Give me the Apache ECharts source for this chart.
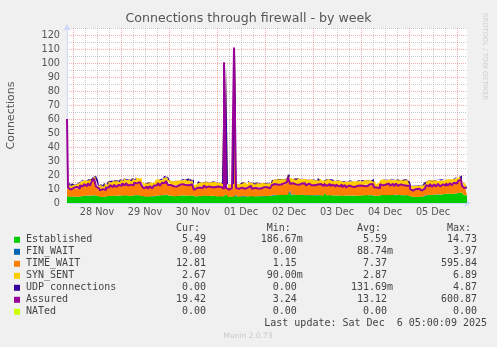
<!DOCTYPE html>
<html><head><meta charset="utf-8">
<script src="https://cdn.jsdelivr.net/npm/echarts@6/dist/echarts.min.js"></script>
<style>html,body{margin:0;padding:0;background:#f0f0f0}#c{width:497px;height:347px}</style>
</head><body><div id="c"></div><script>
// hourly samples, first = 2025-11-27 21:00, last = 2025-12-06 05:00
const dayLabels = ['28 Nov','29 Nov','30 Nov','01 Dec','02 Dec','03 Dec','04 Dec','05 Dec'];
const yTicks = [0,10,20,30,40,50,60,70,80,90,100,110,120];

const established = [
4.8,4.6,4.5,4.7,4.4,4.6,4.5,4.8,5.0,5.2,4.9,5.3,
5.1,5.5,5.8,5.2,4.6,4.4,4.3,4.6,4.8,5.0,5.3,5.1,
5.2,4.9,5.1,5.3,5.5,5.2,5.6,5.4,5.0,5.3,5.6,5.8,
5.5,5.7,4.9,4.6,4.8,4.5,4.9,4.7,5.0,5.4,5.6,5.3,
5.5,5.8,6.0,5.4,5.0,5.2,4.9,5.1,5.0,5.3,5.4,5.6,
5.2,5.5,5.3,5.4,4.5,4.7,5.0,5.2,4.9,5.3,5.1,4.9,
5.2,5.0,5.1,4.8,5.0,4.7,4.6,6.0,4.6,4.4,4.5,4.4,
6.2,4.6,4.8,4.7,5.1,4.8,4.7,4.9,5.2,4.8,4.6,4.9,
4.8,5.0,4.8,5.0,4.9,5.0,5.1,5.8,5.6,5.9,5.7,6.0,
5.8,5.7,6.1,9.3,6.2,5.8,6.0,5.7,5.9,5.8,6.1,5.9,
5.6,5.8,5.7,5.5,5.7,5.4,5.8,5.6,5.4,7.0,5.6,5.8,
5.5,5.4,5.3,5.5,5.4,5.5,5.2,5.4,5.1,5.3,5.4,5.2,
5.3,5.1,5.4,5.2,5.6,5.7,5.5,5.6,5.5,5.7,5.2,4.8,
5.0,5.7,5.8,5.6,5.7,5.9,5.6,5.8,5.5,5.9,5.7,5.6,
5.8,5.5,5.7,5.3,4.6,4.4,4.5,4.3,4.6,4.5,4.7,5.1,
5.7,5.9,6.0,5.7,6.1,5.9,6.2,6.0,6.3,6.4,6.6,6.4,
6.7,6.5,6.8,7.0,7.2,7.5,6.2,5.6,5.5];

const finWait = [
0,0,0,0,0,0,0,0,0,0,0,0, 0,0,0,0,0,0,0,0,0,0,0,0,
0,0,0,0,0,0,0,0,0,0,0,0, 0,0,0,0,0,0,0,0,0,0,0,0,
0,0,0,0,0,0,0,0,0,0,0,0, 0,0,0,0,0,0,0,0,0,0,0,0,
0,0,0,0,0,0,0,0,0,0,0,0, 0,0,0,0,0,0,0,0,0,0,0,0,
0,0,0,0,0,0,0,0,0,0,0,0, 0,0,0,0,0,0,0,0,0,0,0,0,
0,0,0,0,0,0,0,0,0,0,0,0, 0,0,0,0,0,0,0,0,0,0,0,0,
0,0,0,0,0,0,0,0,0,0,0,0, 0,0,0,0,0,0,0,0,0,0,0,0,
0,0,0,0,0,0,0,0,0,0,0,0, 0,0,0,0,0,0,0,0,0,0,0,0,
0,0,0,0,0,0,0,0,0];

const timeWait = [
5.4,6.4,5.5,6.3,5.7,6.8,6.0,7.5,7.2,8.3,7.5,8.6,
7.5,10.0,11.0,7.4,5.0,5.4,4.7,5.7,5.4,7.1,6.7,7.4,
7.0,7.5,7.0,8.0,7.6,8.4,7.8,8.0,7.1,8.4,8.0,9.0,
8.4,9.1,6.2,6.7,6.1,6.5,6.2,6.7,6.5,8.2,7.7,8.1,
8.0,9.5,9.3,8.4,6.9,7.8,6.8,7.7,7.0,7.9,7.3,8.2,
7.1,8.1,7.2,8.0,4.9,5.9,6.1,7.0,6.0,7.1,6.2,6.8,
6.4,6.8,6.3,6.8,6.2,6.6,5.7,90.0,5.5,6.0,5.4,5.9,
100.5,6.0,5.5,6.0,6.0,6.3,5.4,6.4,6.2,6.2,5.3,6.3,
5.4,6.4,5.5,6.3,5.5,6.3,5.8,7.6,7.1,8.1,7.2,8.2,
7.3,7.8,8.0,9.0,7.9,8.0,7.5,7.9,7.4,7.9,7.5,8.0,
7.1,8.0,7.2,7.7,7.2,7.6,7.2,7.7,6.8,6.3,6.9,7.8,
6.9,7.4,6.6,7.5,6.6,7.4,6.4,7.2,6.2,7.1,6.6,7.0,
6.5,7.0,6.5,7.1,6.8,7.6,6.7,7.6,6.8,7.7,6.3,6.0,
5.9,7.6,7.1,7.4,7.0,7.9,6.9,7.7,6.8,7.8,6.9,7.5,
7.1,7.5,7.0,7.0,4.7,5.2,4.6,5.1,4.8,5.2,4.8,6.0,
6.2,7.1,6.6,6.7,6.4,6.8,6.5,6.8,6.2,6.9,6.5,7.0,
6.6,7.1,6.8,7.8,7.7,9.0,5.6,5.6,5.5];

const synSent = [
2.6,3.4,2.2,3.1,2.9,2.4,3.6,2.8,3.9,2.5,3.7,3.0,
3.8,2.6,2.4,3.9,2.8,3.6,2.5,3.8,2.9,3.4,2.6,3.5,
3.2,3.9,2.7,3.6,2.8,4.1,2.9,3.7,3.3,3.9,2.8,3.4,
3.6,2.9,4.0,2.7,3.8,3.0,3.5,2.8,3.9,3.2,3.7,2.9,
3.8,3.0,3.4,2.8,3.9,2.6,3.7,3.1,4.0,2.7,3.6,3.2,
3.5,3.9,2.8,3.6,3.3,2.9,3.8,2.7,3.5,3.2,3.9,2.8,
3.6,3.0,3.8,2.7,3.4,3.1,2.8,3.0,3.7,2.9,3.5,3.2,
2.8,3.6,3.0,3.9,2.7,3.5,3.2,3.8,2.9,3.6,3.1,3.4,
3.7,2.8,3.9,3.0,3.5,2.8,3.3,3.0,4.1,3.2,3.8,3.0,
3.9,3.3,3.4,2.6,3.8,3.5,4.0,2.9,4.2,3.1,3.7,3.4,
3.9,3.0,4.1,3.2,3.8,3.1,4.3,3.0,3.6,3.4,3.8,3.5,
3.7,3.1,3.8,3.3,3.9,2.9,3.6,3.2,3.8,3.0,3.5,3.3,
3.6,3.2,3.9,3.0,3.8,3.1,4.0,3.2,3.9,2.9,3.4,2.8,
3.3,3.0,4.0,3.2,3.9,3.0,3.8,3.3,4.1,3.1,3.6,3.2,
3.9,3.0,3.7,2.8,3.2,2.6,3.3,2.7,3.1,2.5,3.0,2.8,
3.6,3.1,3.9,3.2,3.7,3.0,4.0,3.3,3.6,3.4,3.9,3.5,
3.7,3.4,3.9,3.6,3.5,3.3,3.1,2.9,2.7];

const udp = [
0,0,0,0,0,0,0,0,0.5,0,0,0,
0,0,0,0,0,0,0,0,0.6,0,0,0,
0,0,0,0,0,0,0.7,0,0,0,0,0,
0,0,0,0,0,0,0,0,0,0,0,0,
0,0.9,0,0,0,0,0,0,0,0,0.8,0,
0,0,0,0,0,0,0.6,0,0,0,0,0,
0,0.7,0,0,0,0,0,0,0,0,0,0,
0,0,0,0,0,0,0,1.0,0,0,0,0,
0,0,0,0,0.5,0,0,0,0,0,0.8,0,
0,1.1,0,0,0,0,0,0,0,0.7,0,0,
0,0,0,0,0,0,0.7,0,0,0,0,0,
0.9,0,0,0,0,0,0,0,0,0.8,0,0,
0,0,0.6,0,0,0,0,0,0,0.8,0,0,
0,0,0,0,0,0,1.0,0,0,0,0,0,
0,0,0.6,0,0,0,0,0,0,0,0,0.5,
0,0,0,0,0,0,0,0.9,0,0,0,0,
0,0,0.8,0,0,0,0,0,0];

const assured = [
60,11.0,9.6,10.9,9.8,11.5,10.3,12.6,11.8,13.5,12.1,14.0,
12.4,15.8,17.4,11.8,10.5,9.0,9.9,9.3,11.0,11.1,12.8,11.4,
13.0,11.5,12.9,12.3,14.0,12.6,14.2,12.4,13.1,12.6,14.5,14.0,
14.9,13.8,12.0,10.4,11.8,10.2,12.1,10.5,12.4,12.7,14.2,12.4,
14.4,14.3,15.8,12.9,12.8,12.0,12.7,11.8,13.0,12.2,13.5,12.8,
13.3,12.6,13.4,12.3,9.4,10.7,11.0,12.3,10.7,12.6,11.1,11.9,
11.3,12.0,11.2,11.8,10.9,11.5,10.2,100.5,10.9,9.6,10.7,9.5,
111,10.8,10.1,11.0,11.9,10.2,11.0,10.4,12.2,10.1,10.8,10.3,
11.1,10.4,11.2,10.4,11.3,10.5,11.7,12.9,13.6,13.0,13.9,13.2,
14.0,12.6,14.8,18.4,13.8,14.1,13.3,13.8,13.0,14.0,13.3,14.1,
12.5,13.9,12.6,13.4,12.7,13.2,12.7,13.5,12.1,13.6,12.3,13.7,
12.2,13.0,11.7,13.2,11.8,13.1,11.4,12.8,11.2,12.5,11.8,12.4,
11.5,12.3,11.7,12.5,12.2,13.4,12.0,13.3,12.1,13.6,11.3,11.0,
10.6,13.4,12.6,13.2,12.4,13.9,12.3,13.7,12.1,13.8,12.3,13.3,
12.6,13.2,12.4,12.3,10.0,8.8,9.9,8.6,10.2,8.9,10.3,10.4,
12.8,12.0,13.5,11.5,13.3,11.8,13.6,11.9,13.3,12.4,14.0,12.5,
14.2,12.7,14.5,13.9,15.7,16.6,12.3,10.8,11.0];

const legendNames = ['Established','FIN_WAIT','TIME_WAIT','SYN_SENT','UDP connections','Assured','NATed'];
const legendColors = ['#00CC00','#0066B3','#FF8000','#FFCC00','#330099','#990099','#CCFF00'];
const curVals = ['5.49','0.00','12.81','2.67','0.00','19.42','0.00'];
const minVals = ['186.67m','0.00','1.15','90.00m','0.00','3.24','0.00'];
const avgVals = ['5.59','88.74m','7.37','2.87','131.69m','13.12','0.00'];
const maxVals = ['14.73','3.97','595.84','6.89','4.87','600.87','0.00'];

// category axis (hour slots)
const startMs = Date.UTC(2025,10,27,21,0,0);
const cats = assured.map((_, i) => {
  const d = new Date(startMs + i * 3600000);
  return d.getUTCFullYear() + '-' + (d.getUTCMonth()+1) + '-' + d.getUTCDate() + ' ' + d.getUTCHours();
});
const hourOf = i => new Date(startMs + i * 3600000).getUTCHours();
const noonIdx = [];
cats.forEach((c, i) => { if (hourOf(i) === 12) noonIdx.push(i); });

const MGRID = 'rgba(229,0,0,0.32)';
const GRID = 'rgba(140,140,140,0.45)';
const AXIS = '#CFD6F8';
const FONT = '#555';

const chart = echarts.init(document.getElementById('c'), null, {renderer: 'canvas'});

function area(name, data, color) {
  return {name, type: 'line', data, stack: 'all', step: 'middle', symbol: 'none',
    lineStyle: {width: 0}, areaStyle: {color, opacity: 1}, itemStyle: {color},
    xAxisIndex: 0, yAxisIndex: 0, silent: true, z: 2};
}

const graphics = [];
graphics.push({type: 'text', x: 248.5, y: 19, style: {text: 'Connections through firewall - by week', font: '12.6px "DejaVu Sans"', fill: FONT, textAlign: 'center', textVerticalAlign: 'middle'}});
graphics.push({type: 'text', x: 484.5, y: 56.5, rotation: -Math.PI/2, style: {text: 'RRDTOOL / TOBI OETIKER', font: '6.8px "DejaVu Sans"', fill: '#cfcfcf', textAlign: 'center', textVerticalAlign: 'middle'}});
const mono = '10px "DejaVu Sans Mono"';
const colEdges = [206, 296.8, 387, 477];
const headers = ['Cur:','Min:','Avg:','Max:'];
headers.forEach((h, k) => graphics.push({type: 'text', x: colEdges[k] - 6, y: 228.5, style: {text: h, font: mono, fill: '#444', textAlign: 'right', textVerticalAlign: 'middle'}}));
function valText(s, edge, y) {
  const m = s.endsWith('m');
  graphics.push({type: 'text', x: edge, y, style: {text: m ? s.slice(0, -1) : s, font: mono, fill: '#444', textAlign: 'right', textVerticalAlign: 'middle'}});
  if (m) graphics.push({type: 'text', x: edge, y, style: {text: 'm', font: mono, fill: '#444', textAlign: 'left', textVerticalAlign: 'middle'}});
}
legendNames.forEach((n, i) => {
  const y = 239.8 + 12 * i;
  graphics.push({type: 'rect', shape: {x: 14, y: y - 3, width: 6, height: 6}, style: {fill: legendColors[i]}});
  graphics.push({type: 'text', x: 26, y, style: {text: n, font: mono, fill: '#444', textAlign: 'left', textVerticalAlign: 'middle'}});
  valText(curVals[i], colEdges[0], y);
  valText(minVals[i], colEdges[1], y);
  valText(avgVals[i], colEdges[2], y);
  valText(maxVals[i], colEdges[3], y);
});
graphics.push({type: 'text', x: 487, y: 323.8, style: {text: 'Last update: Sat Dec  6 05:00:09 2025', font: mono, fill: '#444', textAlign: 'right', textVerticalAlign: 'middle'}});
graphics.push({type: 'text', x: 248, y: 336, style: {text: 'Munin 2.0.73', font: '7.5px "DejaVu Sans"', fill: '#c8c8c8', textAlign: 'center', textVerticalAlign: 'middle'}});

chart.setOption({
  animation: false,
  backgroundColor: '#f0f0f0',
  grid: {left: 67, top: 28, width: 400, height: 175, containLabel: false, outerBoundsMode: 'none',
    show: true, backgroundColor: '#ffffff', borderWidth: 0},
  xAxis: [{
    type: 'category', data: cats, boundaryGap: false,
    axisLine: {show: true, lineStyle: {color: AXIS, width: 1}, symbol: ['none', 'arrow'], symbolSize: [6, 7], symbolOffset: [0, 4]},
    axisTick: {show: false},
    axisLabel: {show: true, interval: (i) => hourOf(i) === 12, margin: 4, color: FONT, fontSize: 9.7, fontFamily: 'DejaVu Sans',
      formatter: (v, i) => { const k = noonIdx.indexOf(i); return k >= 0 ? dayLabels[k] : ''; }},
    splitLine: {show: true, interval: (i) => hourOf(i) === 0, lineStyle: {color: MGRID, width: 1, type: [1, 1]}}
  }, {
    type: 'category', data: cats, boundaryGap: false, position: 'bottom',
    axisLine: {show: false}, axisTick: {show: false}, axisLabel: {show: false},
    splitLine: {show: true, interval: (i) => hourOf(i) % 6 === 0 && hourOf(i) !== 0, lineStyle: {color: GRID, width: 1, type: [1, 1]}}
  }],
  yAxis: {
    type: 'value', min: 0, max: 125, interval: 5,
    name: 'Connections', nameLocation: 'middle', nameGap: 50, nameRotate: 90,
    nameTextStyle: {color: FONT, fontSize: 11, fontFamily: 'DejaVu Sans'},
    axisLine: {show: true, lineStyle: {color: AXIS, width: 1}, symbol: ['none', 'arrow'], symbolSize: [6, 7], symbolOffset: [0, 4]},
    axisTick: {show: false},
    axisLabel: {margin: 7, color: FONT, fontSize: 9.7, fontFamily: 'DejaVu Sans',
      formatter: v => yTicks.includes(v) ? String(v) : ''},
    splitLine: {show: true, lineStyle: {color: [MGRID, GRID], width: 1, type: [1, 1]}}
  },
  series: [
    area('Established', established, legendColors[0]),
    area('FIN_WAIT', finWait, legendColors[1]),
    area('TIME_WAIT', timeWait, legendColors[2]),
    area('SYN_SENT', synSent, legendColors[3]),
    area('UDP connections', udp, legendColors[4]),
    {name: 'Assured', type: 'line', data: assured, step: 'middle', symbol: 'none', silent: true,
      lineStyle: {color: legendColors[5], width: 2}, z: 3}
  ],
  graphic: graphics
});
</script></body></html>
